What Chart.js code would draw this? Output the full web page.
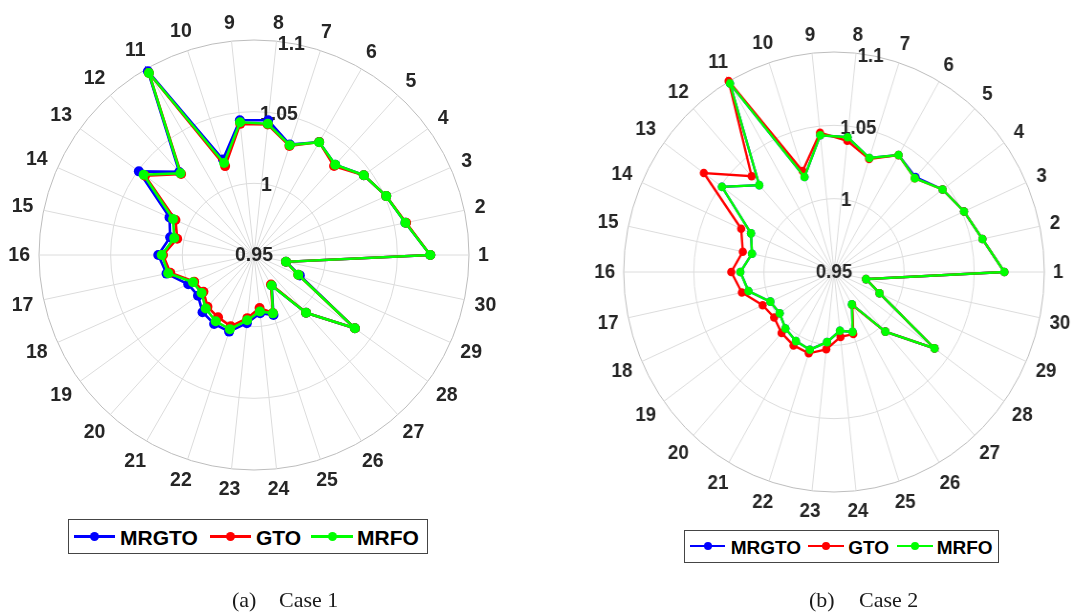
<!DOCTYPE html>
<html>
<head>
<meta charset="utf-8">
<script src="https://cdn.jsdelivr.net/npm/chart.js@4.4.1/dist/chart.umd.min.js"></script>
<style>
html, body { margin: 0; padding: 0; background: #fff; }
#wrap { position: relative; width: 1073px; height: 615px; overflow: hidden; }
canvas { position: absolute; top: 0; }
#case1 { left: 0; }
#case2 { left: 537px; transform-origin: 297px 272px; transform: scaleX(0.956); }
.legend { position: absolute; box-sizing: border-box; border: 1px solid #454545; background: #fff;
  font-family: "Liberation Sans", Arial, sans-serif; font-weight: bold; color: #000; }
.legend span { position: absolute; white-space: nowrap; }
.legend .sw { position: absolute; }
.legend .sw i { position: absolute; left: 50%; top: 50%; border-radius: 50%; }
.caption { position: absolute; top: 589px; font-family: "Liberation Serif", "Times New Roman", serif;
  font-size: 22px; line-height: 22px; color: #1a1a1a; white-space: nowrap; }
</style>
</head>
<body>
<div id="wrap">
  <canvas id="case1" width="536" height="615"></canvas>
  <canvas id="case2" width="570" height="615"></canvas>
  <div class="legend" id="leg1" style="left:68px;top:519px;width:360px;height:35px;font-size:21px;"></div>
  <div class="legend" id="leg2" style="left:684px;top:530px;width:315px;height:33px;font-size:19px;"></div>
  <span class="caption" style="left:232px;">(a)</span>
  <span class="caption" style="left:279px;">Case 1</span>
  <span class="caption" style="left:809px;">(b)</span>
  <span class="caption" style="left:859px;">Case 2</span>
</div>
<script>
// Data
const categories = ['1', '2', '3', '4', '5', '6', '7', '8', '9', '10',
  '11', '12', '13', '14', '15', '16', '17', '18', '19', '20',
  '21', '22', '23', '24', '25', '26', '27', '28', '29', '30'];
const seriesNames = ['MRGTO', 'GTO', 'MRFO'];
const seriesColors = ['#0000ff', '#ff0000', '#00ff00'];
const radialTicks = [0.95, 1, 1.05, 1.1];
const radialTickLabels = ['0.95', '1', '1.05', '1.1'];

// Case 1
const case1Mrgto = [1.073, 1.058, 1.051, 1.0447, 1.0347, 1.041, 1.031, 1.0445, 1.0445, 1.020,
  1.098, 1.028, 1.0493, 1.0145, 1.0098, 1.0168, 1.0124, 1.0002, 0.9983, 1.0037,
  1.0056, 1.0062, 0.9978, 0.9908, 0.994, 0.9746, 1.0043, 1.037, 0.985, 0.9728];
const case1Gto = [1.073, 1.0585, 1.051, 1.0447, 1.0335, 1.041, 1.030, 1.0415, 1.042, 1.0152,
  1.0966, 1.026, 1.044, 1.010, 1.0048, 1.0135, 1.0097, 0.9957, 0.9936, 0.9985,
  1.0002, 1.0023, 0.9943, 0.9872, 0.9925, 0.9737, 1.0043, 1.037, 0.9838, 0.9728];
const case1Mrfo = [1.073, 1.058, 1.051, 1.0447, 1.0347, 1.0409, 1.0306, 1.0421, 1.0431, 1.0175,
  1.0966, 1.0267, 1.0452, 1.0118, 1.0069, 1.0144, 1.0112, 0.9966, 0.9952, 1.0003,
  1.0034, 1.0044, 0.9958, 0.9896, 0.9928, 0.9746, 1.0043, 1.037, 0.9838, 0.9728];

// Case 2
const case2Mrgto = [1.0715, 1.0582, 1.0515, 1.0457, 1.037, 1.0421, 1.0317, 1.0424, 1.0438, 1.0181,
  1.0984, 1.0297, 1.0488, 1.0148, 1.0098, 1.0168, 1.0124, 0.9997, 0.9979, 1.0018,
  1.0044, 1.0057, 0.9981, 0.9903, 0.9929, 0.9755, 1.0047, 1.0386, 0.9855, 0.9733];
const case2Gto = [1.0715, 1.0582, 1.0515, 1.0457, 1.036, 1.042, 1.031, 1.040, 1.0455, 1.0224,
  1.1004, 1.0378, 1.0648, 1.0225, 1.0165, 1.0233, 1.0172, 1.0057, 1.0028, 1.0059,
  1.0078, 1.0083, 1.003, 0.9945, 0.9945, 0.976, 1.0047, 1.0386, 0.9855, 0.9733];
const case2Mrfo = [1.0715, 1.0582, 1.0515, 1.0457, 1.0361, 1.0421, 1.0317, 1.0424, 1.0438, 1.0181,
  1.0984, 1.0297, 1.0488, 1.0148, 1.0098, 1.0168, 1.0124, 0.9997, 0.9979, 1.0018,
  1.0044, 1.0057, 0.9981, 0.9903, 0.9929, 0.9755, 1.0047, 1.0386, 0.9855, 0.9733];

// Chart.js goes clockwise, the figure goes counter-clockwise from east
const clockwise = a => [a[0]].concat(a.slice(1).reverse());

// Theta labels round the rim and r labels along the 80 degree line
const matlabLabels = {
  id: 'matlabLabels',
  beforeDatasetsDraw(chart, args, opts) {
    const r = chart.scales.r;
    const ctx = chart.ctx;
    ctx.save();
    ctx.font = 'bold ' + opts.size + 'px "Liberation Sans", Arial, sans-serif';
    ctx.fillStyle = '#262626';
    ctx.textAlign = 'center';
    ctx.textBaseline = 'middle';
    const a = 80 * Math.PI / 180;
    radialTicks.forEach((v, i) => {
      const d = r.getDistanceFromCenterForValue(v);
      ctx.fillText(radialTickLabels[i], r.xCenter + Math.cos(a) * d, r.yCenter - Math.sin(a) * d + 1);
    });
    chart.data.labels.forEach((lab, i) => {
      const ang = r.getIndexAngle(i) - Math.PI / 2;
      const c = Math.cos(ang), s = Math.sin(ang);
      const w = ctx.measureText(lab).width;
      const d = r.drawingArea + opts.pad + w / 2 * Math.abs(c) + opts.half * Math.abs(s);
      ctx.fillText(lab, r.xCenter + c * d, r.yCenter + s * d + 1);
    });
    ctx.restore();
  }
};

const makeChart = function (id, series, lineWidth, pointRadius, padding) {
  return new Chart(document.getElementById(id), {
    type: 'radar',
    data: {
      labels: clockwise(categories),
      datasets: seriesNames.map((name, k) => ({
        label: name,
        data: clockwise(series[k]),
        borderColor: seriesColors[k],
        backgroundColor: seriesColors[k],
        pointBackgroundColor: seriesColors[k],
        pointBorderColor: seriesColors[k],
        pointBorderWidth: 0,
        pointRadius: pointRadius,
        borderWidth: lineWidth,
        fill: false,
        order: 3 - k
      }))
    },
    options: {
      responsive: false,
      animation: false,
      devicePixelRatio: 1,
      layout: { padding: padding },
      plugins: {
        legend: { display: false },
        tooltip: { enabled: false },
        matlabLabels: { size: 19.5, pad: 9, half: 9.5 }
      },
      scales: {
        r: {
          min: 0.95,
          max: 1.1,
          startAngle: 90,
          ticks: { display: false, stepSize: 0.05 },
          pointLabels: { display: false },
          grid: {
            circular: true,
            lineWidth: 1,
            color: ctx => (ctx.tick && ctx.tick.value > 1.099) ? '#bdbdbd' : '#dcdcdc'
          },
          angleLines: { color: '#dcdcdc', lineWidth: 1 }
        }
      }
    },
    plugins: [matlabLabels]
  });
};

makeChart('case1', [case1Mrgto, case1Gto, case1Mrfo], 2.6, 5,
  { left: 39, top: 40, right: 67, bottom: 145 });
makeChart('case2', [case2Mrgto, case2Gto, case2Mrfo], 2.4, 4.3,
  { left: 77, top: 52, right: 53, bottom: 123 });

// Legends
const buildLegend = function (id, swatches, texts, lineY, textTop, lineH, dot) {
  const box = document.getElementById(id);
  seriesNames.forEach((name, k) => {
    const sw = document.createElement('div');
    sw.className = 'sw';
    sw.style.cssText = 'left:' + swatches[k][0] + 'px;width:' + swatches[k][1] + 'px;top:' + (lineY - lineH / 2) +
      'px;height:' + lineH + 'px;background:' + seriesColors[k] + ';';
    const i = document.createElement('i');
    i.style.cssText = 'width:' + dot + 'px;height:' + dot + 'px;margin-left:' + (-dot / 2) + 'px;margin-top:' +
      (-dot / 2) + 'px;background:' + seriesColors[k] + ';';
    sw.appendChild(i);
    box.appendChild(sw);
    const t = document.createElement('span');
    t.textContent = name;
    t.style.left = texts[k] + 'px';
    t.style.top = textTop + 'px';
    t.style.lineHeight = box.style.fontSize;
    box.appendChild(t);
  });
};
buildLegend('leg1', [[5, 41], [141, 41], [242, 42]], [51, 187, 288], 16, 6.5, 3, 9);
buildLegend('leg2', [[5, 35], [122.7, 36.6], [211.7, 36]], [45.7, 163.3, 251.7], 15, 6.9, 2.6, 8);
</script>
</body>
</html>
